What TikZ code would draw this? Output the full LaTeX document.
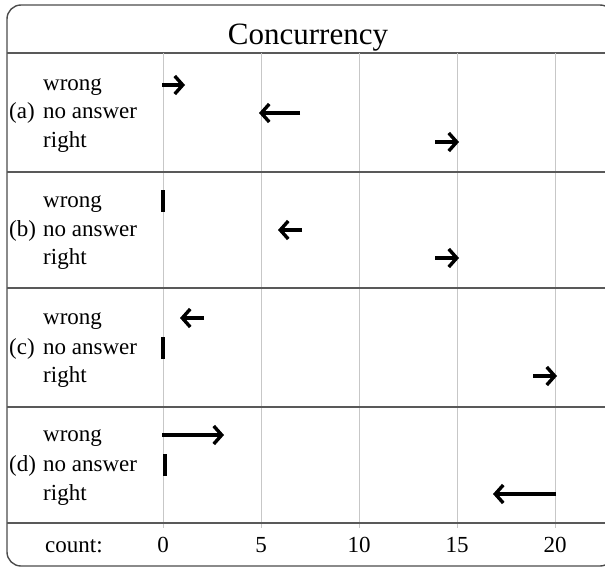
\documentclass[tikz,border=0pt]{standalone}
\usepackage{fontspec}
\setmainfont{Liberation Serif}
\usetikzlibrary{arrows.meta}

\begin{document}
\begin{tikzpicture}[x=1pt,y=-1pt,
	txt/.style={font=\fontsize{23}{27}\selectfont, inner sep=0pt, anchor=base},
	lbl/.style={txt, anchor=base west},
	grid/.style={black!22, line width=1pt},
	sep/.style={black!65, line width=1.6pt},
	datarrow/.style={line width=3.4pt, -{Straight Barb[length=8pt,width=18pt,line width=3.4pt]}},
	zerobar/.style={line width=3.6pt}]
	\useasboundingbox (0,0) rectangle (605,567);
	\draw [black!70, line width=1.4pt, rounded corners=14pt] (7,5) rectangle (614,566);
	% title
	\node[txt, font=\fontsize{31}{36}\selectfont] (title) at (308,45) {Concurrency};
	\draw [sep] (7,53) to (605,53);
	% grid
	\draw [grid] (163,53) to (163,528);
	\draw [grid] (261,53) to (261,528);
	\draw [grid] (359,53) to (359,528);
	\draw [grid] (457,53) to (457,528);
	\draw [grid] (555,53) to (555,528);
	\draw [sep] (7,172) to (605,172);
	\draw [sep] (7,288) to (605,288);
	\draw [sep] (7,407) to (605,407);
	\draw [sep] (7,523) to (605,523);
	% (a)
	\node[lbl] (a) at (9,119) {(a)};
	\node[lbl] (awrong) at (43,91) {wrong};
	\node[lbl] (anone) at (43,119) {no answer};
	\node[lbl] (aright) at (43,148) {right};
	\draw [datarrow] (162,85) to (185,85);
	\draw [datarrow] (300,113) to (259,113);
	\draw [datarrow] (435,142) to (459,142);
	% (b)
	\node[lbl] (b) at (9,236) {(b)};
	\node[lbl] (bwrong) at (43,207) {wrong};
	\node[lbl] (bnone) at (43,236) {no answer};
	\node[lbl] (bright) at (43,264) {right};
	\draw [zerobar] (163,190) to (163,212);
	\draw [datarrow] (302,230) to (278,230);
	\draw [datarrow] (435,258) to (459,258);
	% (c)
	\node[lbl] (c) at (9,354) {(c)};
	\node[lbl] (cwrong) at (43,324) {wrong};
	\node[lbl] (cnone) at (43,354) {no answer};
	\node[lbl] (cright) at (43,382) {right};
	\draw [datarrow] (204,318) to (180,318);
	\draw [zerobar] (163,337) to (163,359);
	\draw [datarrow] (533,376) to (557,376);
	% (d)
	\node[lbl] (d) at (9,471) {(d)};
	\node[lbl] (dwrong) at (43,441) {wrong};
	\node[lbl] (dnone) at (43,471) {no answer};
	\node[lbl] (dright) at (43,500) {right};
	\draw [datarrow] (162,435) to (224,435);
	\draw [zerobar] (165,454) to (165,476);
	\draw [datarrow] (556,494) to (493,494);
	% axis
	\node[lbl] (count) at (45,552) {count:};
	\node[txt] (t0) at (163,552) {0};
	\node[txt] (t5) at (261,552) {5};
	\node[txt] (t10) at (359,552) {10};
	\node[txt] (t15) at (457,552) {15};
	\node[txt] (t20) at (555,552) {20};
\end{tikzpicture}
\end{document}
